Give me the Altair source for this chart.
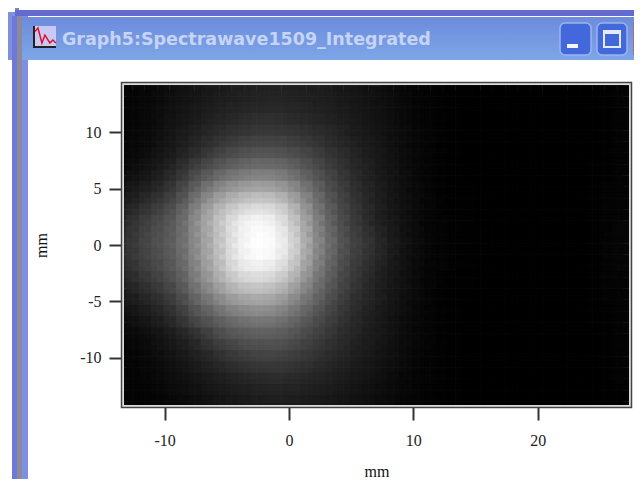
import altair as alt
import pandas as pd

TITLE = "Graph5:Spectrawave1509_Integrated"
x_centers = list(range(-13, 28))
y_centers = list(range(14, -15, -1))
x_ticks = [-10, 0, 10, 20]
y_ticks = [-10, -5, 0, 5, 10]
icon_x = [-20.43, -20.19, -19.87, -19.63, -19.23, -18.99, -18.75]
icon_y = [18.9, 19.2, 17.88, 18.58, 17.88, 18.14, 17.88]

gray_rows = [
 [3,4,5,7,10,13,17,21,24,27,29,31,31,30,29,27,25,22,19,15,12,9,6,4,3,2,1, 1,1,0,0,0,0,0,0,0,0,0,0,1,2],
 [3,4,5,8,11,15,19,23,27,30,33,35,36,35,33,31,28,25,21,17,13,10,7,4,3,2,1, 1,1,0,0,0,0,0,0,0,0,0,0,1,2],
 [3,4,6,9,13,17,22,27,32,36,39,41,41,40,38,35,31,27,23,19,15,11,8,5,3,2,1, 1,0,0,0,0,0,0,0,0,0,0,0,1,2],
 [3,4,6,10,15,20,26,32,38,43,47,49,49,47,44,40,36,31,26,21,16,12,8,5,3,2,1, 1,0,0,0,0,0,0,0,0,0,0,0,1,2],
 [3,5,7,12,18,25,32,40,47,53,57,60,60,58,54,49,43,37,30,24,18,13,9,6,4,2,1, 1,0,0,0,0,0,0,0,0,0,0,0,1,2],
 [4,5,8,14,21,30,40,50,60,67,72,75,75,72,67,60,52,44,36,28,21,15,10,6,4,2,1, 1,0,0,0,0,0,0,0,0,0,0,0,1,2],
 [4,6,10,17,26,37,50,64,76,85,90,93,92,89,82,73,62,52,42,32,24,17,11,7,4,2,1, 1,0,0,0,0,0,0,0,0,0,0,0,1,2],
 [5,9,15,24,36,53,70,84,96,106,112,115,114,109,99,87,73,60,47,36,27,19,12,7,4,2,1, 1,0,0,0,0,0,0,0,0,0,0,1,1,2],
 [9,14,21,32,47,67,90,105,121,132,139,142,140,132,118,102,85,68,53,40,29,20,13,8,4,2,1, 1,0,0,0,0,0,0,0,0,0,0,1,1,3],
 [15,23,33,45,61,84,110,132,150,162,170,173,170,159,140,118,96,76,59,44,32,22,14,8,5,2,1, 1,1,0,0,0,0,0,0,0,0,0,1,2,3],
 [23,34,46,59,76,100,130,156,176,190,200,204,200,186,162,134,107,84,64,48,35,24,15,9,5,3,1, 1,1,0,0,0,0,0,0,0,0,0,1,2,3],
 [32,46,59,72,90,115,148,175,198,215,227,231,226,208,180,147,116,90,69,52,37,25,16,9,5,3,1, 1,1,0,0,0,0,0,0,0,0,0,1,2,3],
 [40,56,70,83,98,124,155,182,208,232,245,248,242,222,193,157,124,96,73,55,39,26,17,10,5,3,2, 1,1,0,0,0,0,0,0,0,0,0,1,2,4],
 [46,62,76,88,102,125,155,180,208,234,248,254,248,231,201,162,129,102,77,61,46,31,19,10,6,3,2, 1,1,1,0,0,0,0,0,0,0,0,1,3,4],
 [48,65,78,90,104,126,154,180,208,235,250,255,250,235,205,165,132,105,80,65,50,34,20,11,6,3,2, 1,1,1,0,0,0,0,0,0,0,0,1,3,4],
 [47,63,76,87,100,122,152,178,206,232,247,252,247,230,200,162,129,102,78,62,47,32,19,10,6,3,2, 1,1,1,0,0,0,0,0,0,0,0,1,3,4],
 [41,57,70,82,96,118,147,173,200,225,238,240,235,218,190,155,124,97,74,57,42,28,18,10,5,3,2, 1,1,0,0,0,0,0,0,0,0,0,1,2,4],
 [34,48,61,73,88,110,139,163,188,208,220,222,216,200,175,144,114,90,69,52,38,26,16,9,5,3,1, 1,1,0,0,0,0,0,0,0,0,0,1,2,3],
 [26,37,49,62,78,99,126,148,170,186,195,198,192,178,156,130,105,83,64,48,35,24,15,9,5,2,1, 1,1,0,0,0,0,0,0,0,0,0,1,2,3],
 [18,27,38,50,65,86,110,128,148,161,169,172,168,155,137,116,94,75,58,44,32,22,14,8,5,2,1, 1,0,0,0,0,0,0,0,0,0,0,1,2,3],
 [12,19,28,38,52,70,93,107,124,136,143,146,143,133,118,101,83,67,52,40,29,20,13,8,4,2,1, 1,0,0,0,0,0,0,0,0,0,0,1,1,2],
 [7,12,19,28,40,56,76,88,102,112,118,121,119,112,101,87,72,59,46,36,26,18,12,7,4,2,1, 1,0,0,0,0,0,0,0,0,0,0,1,1,2],
 [4,6,10,16,25,37,52,68,83,92,98,101,100,95,86,75,63,52,41,32,24,17,11,7,4,2,1, 1,0,0,0,0,0,0,0,0,0,0,0,1,2],
 [3,5,8,13,20,29,41,54,66,75,81,85,85,81,74,65,55,46,37,29,22,15,10,6,4,2,1, 1,0,0,0,0,0,0,0,0,0,0,0,1,2],
 [3,4,6,10,15,22,31,41,51,59,65,69,70,67,62,55,47,40,32,25,19,13,9,6,3,2,1, 1,0,0,0,0,0,0,0,0,0,0,0,1,2],
 [2,3,5,7,11,16,23,31,39,45,50,54,55,54,50,45,39,33,27,21,16,11,8,5,3,2,1, 1,0,0,0,0,0,0,0,0,0,0,0,1,2],
 [2,3,4,6,9,12,17,23,29,34,38,41,43,42,40,36,32,27,22,17,13,9,7,4,3,2,1, 1,0,0,0,0,0,0,0,0,0,0,0,1,2],
 [2,2,3,5,7,10,13,17,22,26,29,32,34,33,32,29,26,22,18,14,11,8,6,4,2,1,1, 1,0,0,0,0,0,0,0,0,0,0,0,1,1],
 [2,2,3,4,5,7,10,13,17,20,23,25,27,27,26,24,21,18,15,12,9,7,5,3,2,1,1, 1,0,0,0,0,0,0,0,0,0,0,0,1,1],
]

records = []
for yc, row in zip(y_centers, gray_rows):
    for xc, g in zip(x_centers, row):
        records.append({"x0": xc - 0.6, "x1": xc + 0.4, "y0": yc - 0.85, "y1": yc + 0.15, "g": g})
heat_df = pd.DataFrame(records)
one = pd.DataFrame({"a": [0]})

OX, OY = 123, 84
W, H = 507, 322


def box(px0, py0, px1, py1, fill=None, **kw):
    opts = dict(kw)
    if fill is not None:
        opts["fill"] = fill
    return alt.Chart(one).mark_rect(**opts).encode(
        x=alt.value(px0 - OX), x2=alt.value(px1 - OX),
        y=alt.value(py0 - OY), y2=alt.value(py1 - OY),
    )


title_grad = alt.Gradient(
    gradient="linear", x1=0, x2=0, y1=0, y2=1,
    stops=[alt.GradientStop(color="#6d8bdc", offset=0),
           alt.GradientStop(color="#7da6e6", offset=1)],
)

chrome = [
    box(8, 12, 20, 60, "#7f8fe0"),
    box(15, 8, 19, 12, "#7a80dc"),
    box(15, 10, 642, 16, "#636ad0"),
    box(12, 16, 17, 481, "#6f78d8"),
    box(17, 16, 22, 481, "#8a8a9a"),
    box(22, 16, 28, 481, "#7f90e4"),
    box(22, 17, 642, 60, title_grad),
    box(33, 26, 56, 48, "#c9c9f4"),
    box(33, 26, 35, 48, "#222222"),
    box(33, 46, 56, 48, "#222222"),
    box(560, 23, 591, 55, "#4268dc", stroke="#9db4ee", strokeWidth=1.5, cornerRadius=5),
    box(567, 44, 578, 48, "#f4f6ff"),
    box(597, 23, 627, 55, "#4268dc", stroke="#9db4ee", strokeWidth=1.5, cornerRadius=5),
    box(604, 31, 620, 47, fill="#4268dc", stroke="#e4ebff", strokeWidth=2),
    box(604, 30, 620, 34, "#e4ebff"),
    box(633, 23, 642, 55, "#b06a80"),
]

icon_df = pd.DataFrame({"ix": icon_x, "iy": icon_y})

x_scale = alt.Scale(domain=[-13.35, 27.43], nice=False, zero=False)
y_scale = alt.Scale(domain=[-14.25, 14.25], nice=False, zero=False)

SERIF = "Liberation Serif"
gray_scale = alt.Scale(domain=[0, 255], range=["#000000", "#ffffff"])

heat = alt.Chart(heat_df).mark_rect(clip=True, strokeWidth=12, strokeOpacity=0.5).encode(
    x=alt.X("x0:Q", scale=x_scale, axis=alt.Axis(
        values=x_ticks, title="mm", grid=False, domain=False, tickSize=14, tickWidth=2,
        tickColor="#333333", labelFont=SERIF, labelFontSize=16, labelColor="#222222",
        labelPadding=12, titleFont=SERIF, titleFontSize=16, titleFontWeight="normal",
        titleColor="#111111", titlePadding=15, labelFlush=False, labelOverlap=False,
        labelExpr="'' + datum.value")),
    x2="x1:Q",
    y=alt.Y("y0:Q", scale=y_scale, axis=alt.Axis(
        values=y_ticks, title="mm", grid=False, domain=False, tickSize=14, tickWidth=2,
        tickColor="#333333", labelFont=SERIF, labelFontSize=16, labelColor="#222222",
        labelPadding=8, titleFont=SERIF, titleFontSize=16, titleFontWeight="normal",
        titleColor="#111111", titlePadding=30, labelFlush=False, labelOverlap=False,
        labelExpr="'' + datum.value")),
    y2="y1:Q",
    fill=alt.Fill("g:Q", scale=gray_scale, legend=None),
    stroke=alt.Stroke("g:Q", scale=gray_scale, legend=None),
)

rim = alt.Chart(one).mark_rect(fill="transparent", stroke="#dddddd", strokeWidth=2).encode(
    x=alt.value(0), x2=alt.value(W), y=alt.value(0), y2=alt.value(H))
outer = alt.Chart(one).mark_rect(fill="transparent", stroke="#444444", strokeWidth=1.5).encode(
    x=alt.value(-1.5), x2=alt.value(W + 1.5), y=alt.value(-1.5), y2=alt.value(H + 1.5))

icon_line = alt.Chart(icon_df).mark_line(color="#e0102a", strokeWidth=1.5).encode(
    x=alt.X("ix:Q", scale=x_scale), y=alt.Y("iy:Q", scale=y_scale))

title_text = alt.Chart(one).mark_text(
    text=TITLE, align="left", baseline="middle", font="DejaVu Sans", fontSize=17.5,
    fontWeight="bold", color="#c6d4f5",
).encode(x=alt.value(62 - OX), y=alt.value(40 - OY))

chart = alt.layer(*chrome, heat, rim, outer, icon_line, title_text).properties(
    width=W, height=H,
    padding={"left": OX - 8, "top": OY - 8, "right": 626 - (OX - 8) - W, "bottom": 471 - (OY - 8) - H},
    autosize=alt.AutoSizeParams(type="none"),
    background="white",
).configure_view(stroke=None)

chart.save("out.html", embed_options={"renderer": "svg", "actions": False})
